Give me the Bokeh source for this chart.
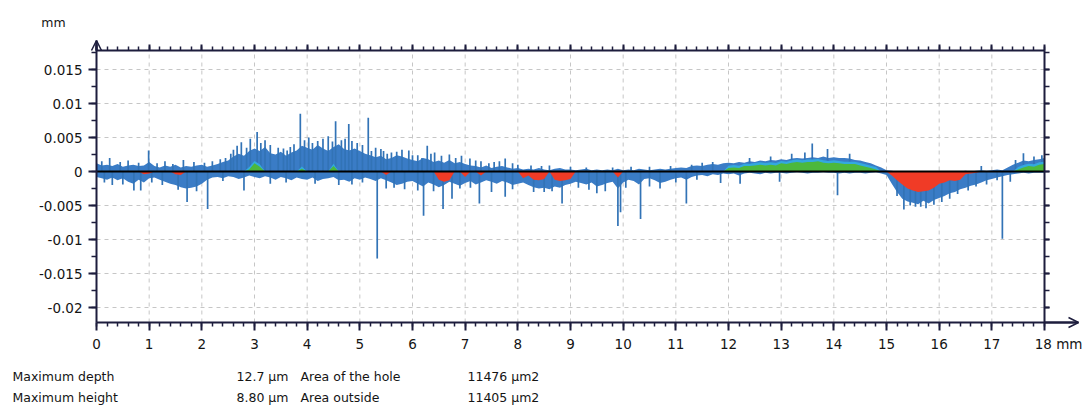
import numpy as np
from bokeh.plotting import figure
from bokeh.models import (LinearAxis, FixedTicker, CustomJSTickFormatter,
                          Label, Arrow, OpenHead, ColumnDataSource)
from bokeh.embed import file_html
from bokeh.resources import INLINE

# ---------------- data (profile heights in micrometres) ----------------
X_MM = [round(i * 0.1, 1) for i in range(181)]

TOP_UM = [
    1.2, 0.9, 1.0, 0.8, 1.1, 0.7, 0.9, 1.0, 0.8, 0.9,
    1.4, 0.8, 0.6, 0.9, 0.7, 1.0, 0.6, 0.8, 0.7, 0.9,
    1.0, 0.7, 0.9, 1.1, 1.4, 1.6, 2.2, 2.6, 2.3, 3.0,
    3.4, 3.0, 3.6, 2.7, 2.5, 2.9, 2.3, 2.8, 3.1, 3.8,
    3.5, 3.2, 3.9, 3.4, 3.0, 3.6, 4.0, 3.3, 3.1, 3.4,
    3.0, 2.6, 2.4, 2.1, 2.3, 1.8, 2.0, 2.4, 2.2, 1.9,
    1.7, 1.5, 2.0, 1.8, 1.4, 1.6, 1.3, 1.7, 1.2, 1.4,
    1.1, 0.9, 0.8, 0.6, 0.9, 0.5, 0.7, 0.8, 0.6, 0.4,
    0.5, 0.3, 0.4, 0.3, 0.5, 0.3, 0.2, 0.4, 0.5, 0.3,
    0.3, 0.2, 0.3, 0.4, 0.2, 0.3, 0.2, 0.3, 0.2, 0.4,
    0.2, 0.3, 0.2, 0.4, 0.3, 0.2, 0.3, 0.4, 0.3, 0.4,
    0.5, 0.6, 0.5, 0.8, 0.9, 0.8, 1.0, 1.1, 1.0, 1.2,
    1.3, 1.2, 1.4, 1.3, 1.5, 1.4, 1.6, 1.5, 1.7, 1.6,
    1.8, 1.7, 1.9, 2.0, 1.9, 2.0, 2.1, 2.0, 2.2, 2.0,
    2.1, 2.0, 2.0, 1.9, 1.7, 1.6, 1.4, 1.2, 0.9, 0.6,
    0.2, 0.1, 0.0, 0.0, 0.0, 0.0, 0.0, 0.0, 0.0, 0.0,
    0.0, 0.0, 0.0, 0.0, 0.0, 0.1, 0.0, 0.1, 0.2, 0.1,
    0.2, 0.3, 0.2, 0.6, 1.0, 1.3, 1.6, 1.5, 1.7, 1.8,
    2.0,
]

BOTTOM_UM = [
    -0.8, -1.0, -1.2, -0.9, -1.3, -1.0, -1.5, -1.8, -1.2, -1.6,
    -1.0, -0.9, -1.2, -1.5, -1.8, -2.0, -2.3, -2.5, -2.4, -2.2,
    -1.8, -1.2, -0.9, -0.8, -1.0, -0.7, -0.8, -1.1, -0.9, -0.6,
    -0.8, -1.0, -0.7, -0.9, -1.2, -0.8, -1.0, -1.3, -0.9, -1.1,
    -1.2, -0.9, -1.4, -1.1, -1.0, -0.8, -1.3, -1.2, -1.5, -1.0,
    -1.2, -0.9, -1.1, -1.4, -1.0, -1.3, -1.6, -2.0, -1.8, -1.5,
    -1.4, -1.8, -2.2, -1.6, -1.9, -2.3, -2.0, -1.5, -1.8, -2.1,
    -1.7, -1.4, -1.9, -1.6, -1.3, -1.5, -1.8, -1.4, -1.6, -2.0,
    -1.8, -1.6, -2.0, -2.3, -2.5, -2.4, -2.6, -2.2, -2.4, -2.0,
    -1.8, -1.5, -1.7, -1.9, -1.6, -2.2, -2.0, -1.7, -1.5, -2.5,
    -1.6, -1.2, -1.4, -1.9, -1.1, -1.0, -1.3, -1.7, -1.5, -1.2,
    -1.0, -0.9, -1.2, -0.8, -0.6, -0.5, -0.7, -0.4, -0.5, -0.3,
    -0.4, -0.3, -0.6, -0.3, -0.2, -0.3, -0.4, -0.2, -0.3, -0.2,
    -0.2, -0.3, -0.2, -0.1, -0.2, -0.3, -0.2, -0.2, -0.1, -0.2,
    -0.2, -0.3, -0.2, -0.3, -0.2, -0.2, -0.3, -0.2, -0.1, -0.3,
    -0.5, -1.8, -3.0, -4.0, -4.4, -4.6, -4.8, -4.3, -4.7, -4.2,
    -3.9, -3.6, -3.2, -3.0, -2.6, -2.4, -2.1, -1.9, -1.6, -1.3,
    -1.1, -0.9, -0.7, -0.5, -0.4, -0.3, -0.2, -0.3, -0.2, -0.2,
    -0.2,
]

GREEN_UM = (
    [0.0] * 10 + [0.0] * 10 +
    [0.0, 0.0, 0.0, 0.0, 0.0, 0.0, 0.0, 0.0, 0.0, 0.3] +
    [1.2, 0.7, 0.0, 0.0, 0.0, 0.0, 0.0, 0.0, 0.0, 0.4] +
    [0.0, 0.0, 0.0, 0.0, 0.0, 0.8, 0.0, 0.0, 0.0, 0.0] +
    [0.0] * 70 +
    [0.5, 0.6, 0.5, 0.8, 0.8, 0.9, 1.0, 0.9, 1.0, 0.9] +
    [1.2, 1.1, 1.3, 1.4, 1.3, 1.4, 1.4, 1.5, 1.3, 1.2] +
    [1.3, 1.2, 1.1, 1.1, 1.1, 0.9, 0.7, 0.5, 0.3, 0.0] +
    [0.0] * 20 +
    [0.0, 0.0, 0.0, 0.0, 0.0, 0.3, 0.6, 0.8, 0.7, 1.0] +
    [1.1]
)

RED_UM = (
    [0.0, 0.0, 0.0, 0.0, 0.0, 0.0, 0.0, 0.0, 0.0, -0.4] +
    [-0.3, 0.0, 0.0, 0.0, 0.0, -0.4, -0.5, 0.0, 0.0, 0.0] +
    [0.0] * 30 +
    [0.0, 0.0, 0.0, 0.0, 0.0, -0.5, 0.0, 0.0, 0.0, 0.0] +
    [0.0, 0.0, 0.0, 0.0, 0.0, -1.2, -1.5, -1.3, 0.0, 0.0] +
    [-0.8, 0.0, 0.0, -0.6, 0.0, 0.0, 0.0, 0.0, 0.0, 0.0] +
    [0.0, -1.0, -0.6, -1.2, -1.3, -1.1, 0.0, -1.2, -1.4, -1.3] +
    [-1.1, 0.0, 0.0, 0.0, 0.0, 0.0, 0.0, 0.0, 0.0, -0.9] +
    [0.0] * 50 +
    [0.0, -0.6, -1.3, -1.9, -2.5, -2.8, -3.0, -2.9, -2.8, -2.4] +
    [-1.8, -1.6, -1.3, -1.4, -1.2, -0.4, -0.3, -0.2, 0.0, 0.0] +
    [0.0] * 10 +
    [0.0]
)

# isolated peaks / pits: position (mm) and tip height (micrometres)
SPIKE_X_MM = [0.25, 0.6, 0.99, 1.3, 1.65, 2.35, 2.55, 2.67, 2.75, 2.92, 3.05, 3.2,
              3.45, 3.62, 3.75, 3.87, 4.03, 4.2, 4.3, 4.54, 4.65, 4.79, 4.95, 5.16,
              5.3, 5.45, 5.6, 5.8, 5.93, 6.1, 6.28, 6.42, 6.7, 6.93, 7.09, 7.3,
              7.55, 7.76, 8.0, 8.6, 9.3, 10.5, 11.5, 13.59, 13.88, 16.8, 17.6,
              0.1, 0.45, 0.8, 1.15, 1.45, 1.85, 2.05, 2.2, 2.45, 2.6, 2.85, 3.12,
              3.3, 3.55, 3.68, 3.95, 4.1, 4.4, 4.48, 4.72, 4.85, 5.05, 5.22, 5.4,
              5.52, 5.7, 6.0, 6.18, 6.35, 6.55, 6.82, 7.2, 7.45, 7.65, 7.9, 8.25,
              8.45, 9.0, 9.8, 10.15, 10.9, 11.3, 11.7, 12.4, 12.8, 13.2, 13.45, 14.3,
              17.45, 17.8, 17.95,
              0.3, 0.71, 0.84, 1.72, 2.11, 2.8, 3.3, 4.6, 5.33, 5.5, 6.1, 6.21,
              6.58, 6.75, 7.27, 7.5, 7.76, 8.3, 8.84, 9.5, 9.66, 9.9, 10.33, 10.7,
              11.2, 11.85, 12.22, 12.97, 14.07, 15.33, 15.55, 15.75, 16.05, 16.55,
              17.2, 17.35,
              0.15, 0.5, 1.05, 1.25, 1.55, 1.9, 2.4, 3.6, 4.15, 4.85, 5.05, 5.65,
              5.85, 6.4, 6.9, 7.1, 7.9, 8.5, 8.65, 9.15, 9.35, 9.95, 10.05, 10.5,
              11.0, 11.4, 15.2, 15.45, 15.65, 15.9, 16.2, 16.35, 16.7, 16.9, 17.1]
SPIKE_TIP_UM = [2.0, 1.6, 3.1, 1.5, 1.7, 1.8, 2.6, 3.8, 4.3, 4.8, 5.8, 4.6,
                3.5, 3.1, 4.0, 8.5, 5.0, 4.5, 4.8, 7.4, 4.6, 7.0, 4.2, 7.9,
                3.5, 3.0, 2.8, 3.2, 3.1, 2.4, 3.8, 2.8, 2.5, 2.3, 1.9, 1.5,
                1.4, 1.9, 1.0, 0.9, 0.6, 0.7, 1.3, 4.1, 3.3, 0.8, 2.7,
                1.5, 1.4, 1.3, 1.2, 1.1, 1.4, 1.3, 1.5, 2.0, 3.2, 3.5, 4.2,
                3.9, 3.4, 3.6, 4.6, 4.2, 5.2, 4.4, 4.8, 4.5, 3.9, 3.0, 3.3,
                2.6, 2.9, 2.4, 2.0, 2.6, 2.3, 2.0, 1.6, 1.2, 1.5, 1.2, 0.9,
                0.8, 0.7, 0.6, 0.7, 0.8, 1.0, 1.4, 2.0, 2.2, 2.6, 2.8, 2.6,
                1.7, 2.2, 2.4,
                -2.0, -2.8, -2.8, -4.5, -5.5, -2.8, -1.8, -2.0, -12.8, -2.5, -2.8, -6.5,
                -5.5, -4.0, -4.7, -3.0, -3.7, -3.0, -4.7, -3.2, -2.9, -8.0, -7.0, -2.5,
                -4.7, -1.7, -1.8, -1.5, -3.5, -5.6, -5.2, -5.4, -4.5, -2.8,
                -9.9, -1.5,
                -1.6, -1.9, -1.6, -2.0, -2.7, -2.9, -1.4, -1.6, -1.8, -1.9, -1.6, -2.4,
                -2.6, -2.9, -2.5, -2.4, -2.6, -3.0, -2.9, -2.4, -2.7, -6.0, -2.4, -2.2,
                -1.6, -1.2, -3.6, -5.0, -5.2, -4.9, -4.0, -3.3, -2.2, -1.9, -1.3]

X_TICKS = list(range(0, 19))
Y_TICKS = [-0.02, -0.015, -0.01, -0.005, 0.0, 0.005, 0.01, 0.015]

STATS_LEFT = ["Maximum depth", "Maximum height"]
STATS_VAL = ["12.7 µm", "8.80 µm"]
STATS_AREA = ["Area of the hole", "Area outside"]
STATS_AREA_VAL = ["11476 µm2", "11405 µm2"]

# ---------------- layout geometry (pixels) ----------------
W, H = 1082, 412
PX_X0, PX_PER_MM = 96.0, 52.667      # x = 0 mm at px 96
PX_Y0, PX_PER_UNIT = 171.0, 6800.0    # y = 0 at px 171, 34 px per 0.005 mm

def dx(px):
    return (px - PX_X0) / PX_PER_MM

def dy(py):
    return (PX_Y0 - py) / PX_PER_UNIT

XMIN, XMAX = 0.0, 18.0
YMIN, YMAX = dy(322), dy(50)

um = 1e-3
x = np.array(X_MM)
green = np.array(GREEN_UM) * um
src = ColumnDataSource(dict(
    x=x,
    top=np.array(TOP_UM) * um,
    bot=np.array(BOTTOM_UM) * um,
    green=green,
    halo=np.where(green > 0, green + 0.35 * um, 0.0),
    red=np.array(RED_UM) * um,
    zero=np.zeros(len(x)),
))
spk = ColumnDataSource(dict(x=SPIKE_X_MM, tip=np.array(SPIKE_TIP_UM) * um,
                            base=np.zeros(len(SPIKE_X_MM))))

p = figure(width=W, height=H, x_range=(dx(0), dx(W)), y_range=(dy(H), dy(0)),
           output_backend="svg", toolbar_location=None,
           min_border_left=0, min_border_right=0, min_border_top=0,
           min_border_bottom=0, x_axis_location=None, y_axis_location=None)
p.outline_line_color = None
p.background_fill_color = "white"
p.border_fill_color = "white"
p.xgrid.visible = False
p.ygrid.visible = False

AX = "#1d1d3d"
FONT = "DejaVu Sans"
TXT = "#141414"

# dashed grid inside the plot box only
vx = [t for t in X_TICKS if XMIN < t < XMAX]
p.segment(x0=vx, y0=[YMIN] * len(vx), x1=vx, y1=[YMAX] * len(vx),
          line_color="#c6c6c6", line_dash="4 4", line_width=1)
p.segment(x0=[XMIN] * len(Y_TICKS), y0=Y_TICKS, x1=[XMAX] * len(Y_TICKS), y1=Y_TICKS,
          line_color="#c6c6c6", line_dash="4 4", line_width=1)

# ---------------- profile ----------------
BLUE = "#3a7cc6"
p.varea(x="x", y1="bot", y2="top", source=src, fill_color=BLUE)
p.segment(x0="x", y0="base", x1="x", y1="tip", source=spk, line_color="#3273b6", line_width=1.7)
p.varea(x="x", y1="zero", y2="halo", source=src, fill_color="#33a9de")
p.varea(x="x", y1="zero", y2="green", source=src, fill_color="#4cb83c")
p.varea(x="x", y1="red", y2="zero", source=src, fill_color="#f03b26")
p.line(x=[XMIN, XMAX], y=[0, 0], line_color="black", line_width=2)

# ---------------- axes (placed at fixed positions in the frame) ----------------
def style_axis(ax):
    ax.axis_line_color = AX
    ax.axis_line_width = 2
    ax.major_tick_line_color = AX
    ax.minor_tick_line_color = AX
    ax.major_tick_line_width = 2
    ax.minor_tick_line_width = 1.5
    ax.major_tick_in = 0
    ax.minor_tick_in = 0
    ax.major_label_text_font = FONT
    ax.major_label_text_font_size = "13.5px"
    ax.major_label_text_color = TXT

xminor = [round(i * 0.2, 1) for i in range(91)]
yminor = [round(-0.02 + i * 0.0025, 4) for i in range(16)]
blank = CustomJSTickFormatter(code="return ''")

bottom = LinearAxis(ticker=FixedTicker(ticks=X_TICKS, minor_ticks=xminor),
                    fixed_location=YMIN, bounds=(XMIN, dx(1078)),
                    major_label_overrides={18: "\u00a0\u00a0\u00a0\u00a0\u00a0\u00a0\u00a018\u00a0mm"})
style_axis(bottom)
bottom.major_tick_out = 8
bottom.minor_tick_out = 4
bottom.major_label_standoff = 5
p.add_layout(bottom, "below")

top = LinearAxis(ticker=FixedTicker(ticks=X_TICKS, minor_ticks=xminor),
                 fixed_location=YMAX, bounds=(XMIN, XMAX), formatter=blank)
style_axis(top)
top.major_tick_out = 6
top.minor_tick_out = 4
p.add_layout(top, "above")

left = LinearAxis(ticker=FixedTicker(ticks=Y_TICKS, minor_ticks=yminor),
                  fixed_location=XMIN, bounds=(YMIN, dy(40)),
                  formatter=CustomJSTickFormatter(code="return String(parseFloat(tick.toFixed(4)))"))
style_axis(left)
left.major_tick_out = 8
left.minor_tick_out = 5
left.major_label_standoff = 6
p.add_layout(left, "left")

right = LinearAxis(ticker=FixedTicker(ticks=Y_TICKS, minor_ticks=yminor),
                   fixed_location=XMAX, bounds=(YMIN, YMAX), formatter=blank)
style_axis(right)
right.major_tick_out = 5
right.minor_tick_out = 5
p.add_layout(right, "right")

# arrow heads at the ends of the two axes
p.add_layout(Arrow(x_start=XMIN, y_start=YMAX, x_end=XMIN, y_end=dy(40),
                   line_color=AX, line_width=2,
                   end=OpenHead(size=10, line_color=AX, line_width=1.5)))
p.add_layout(Arrow(x_start=XMAX, y_start=YMIN, x_end=dx(1078), y_end=YMIN,
                   line_color=AX, line_width=2,
                   end=OpenHead(size=10, line_color=AX, line_width=1.5)))

p.add_layout(Label(x=dx(53), y=dy(22), text="mm", text_font=FONT, text_font_size="12.5px",
                   text_align="center", text_baseline="middle", text_color=TXT))

# ---------------- statistics ----------------
rows_py = [376, 397]
kw = dict(text_font=FONT, text_font_size="12.5px", text_baseline="middle", text_color=TXT)
for i in range(2):
    yy = dy(rows_py[i])
    p.add_layout(Label(x=dx(12), y=yy, text=STATS_LEFT[i], **kw))
    p.add_layout(Label(x=dx(288), y=yy, text=STATS_VAL[i], text_align="right", **kw))
    p.add_layout(Label(x=dx(300), y=yy, text=STATS_AREA[i], **kw))
    p.add_layout(Label(x=dx(467), y=yy, text=STATS_AREA_VAL[i], **kw))

open("out.html", "w").write(file_html(p, INLINE))
